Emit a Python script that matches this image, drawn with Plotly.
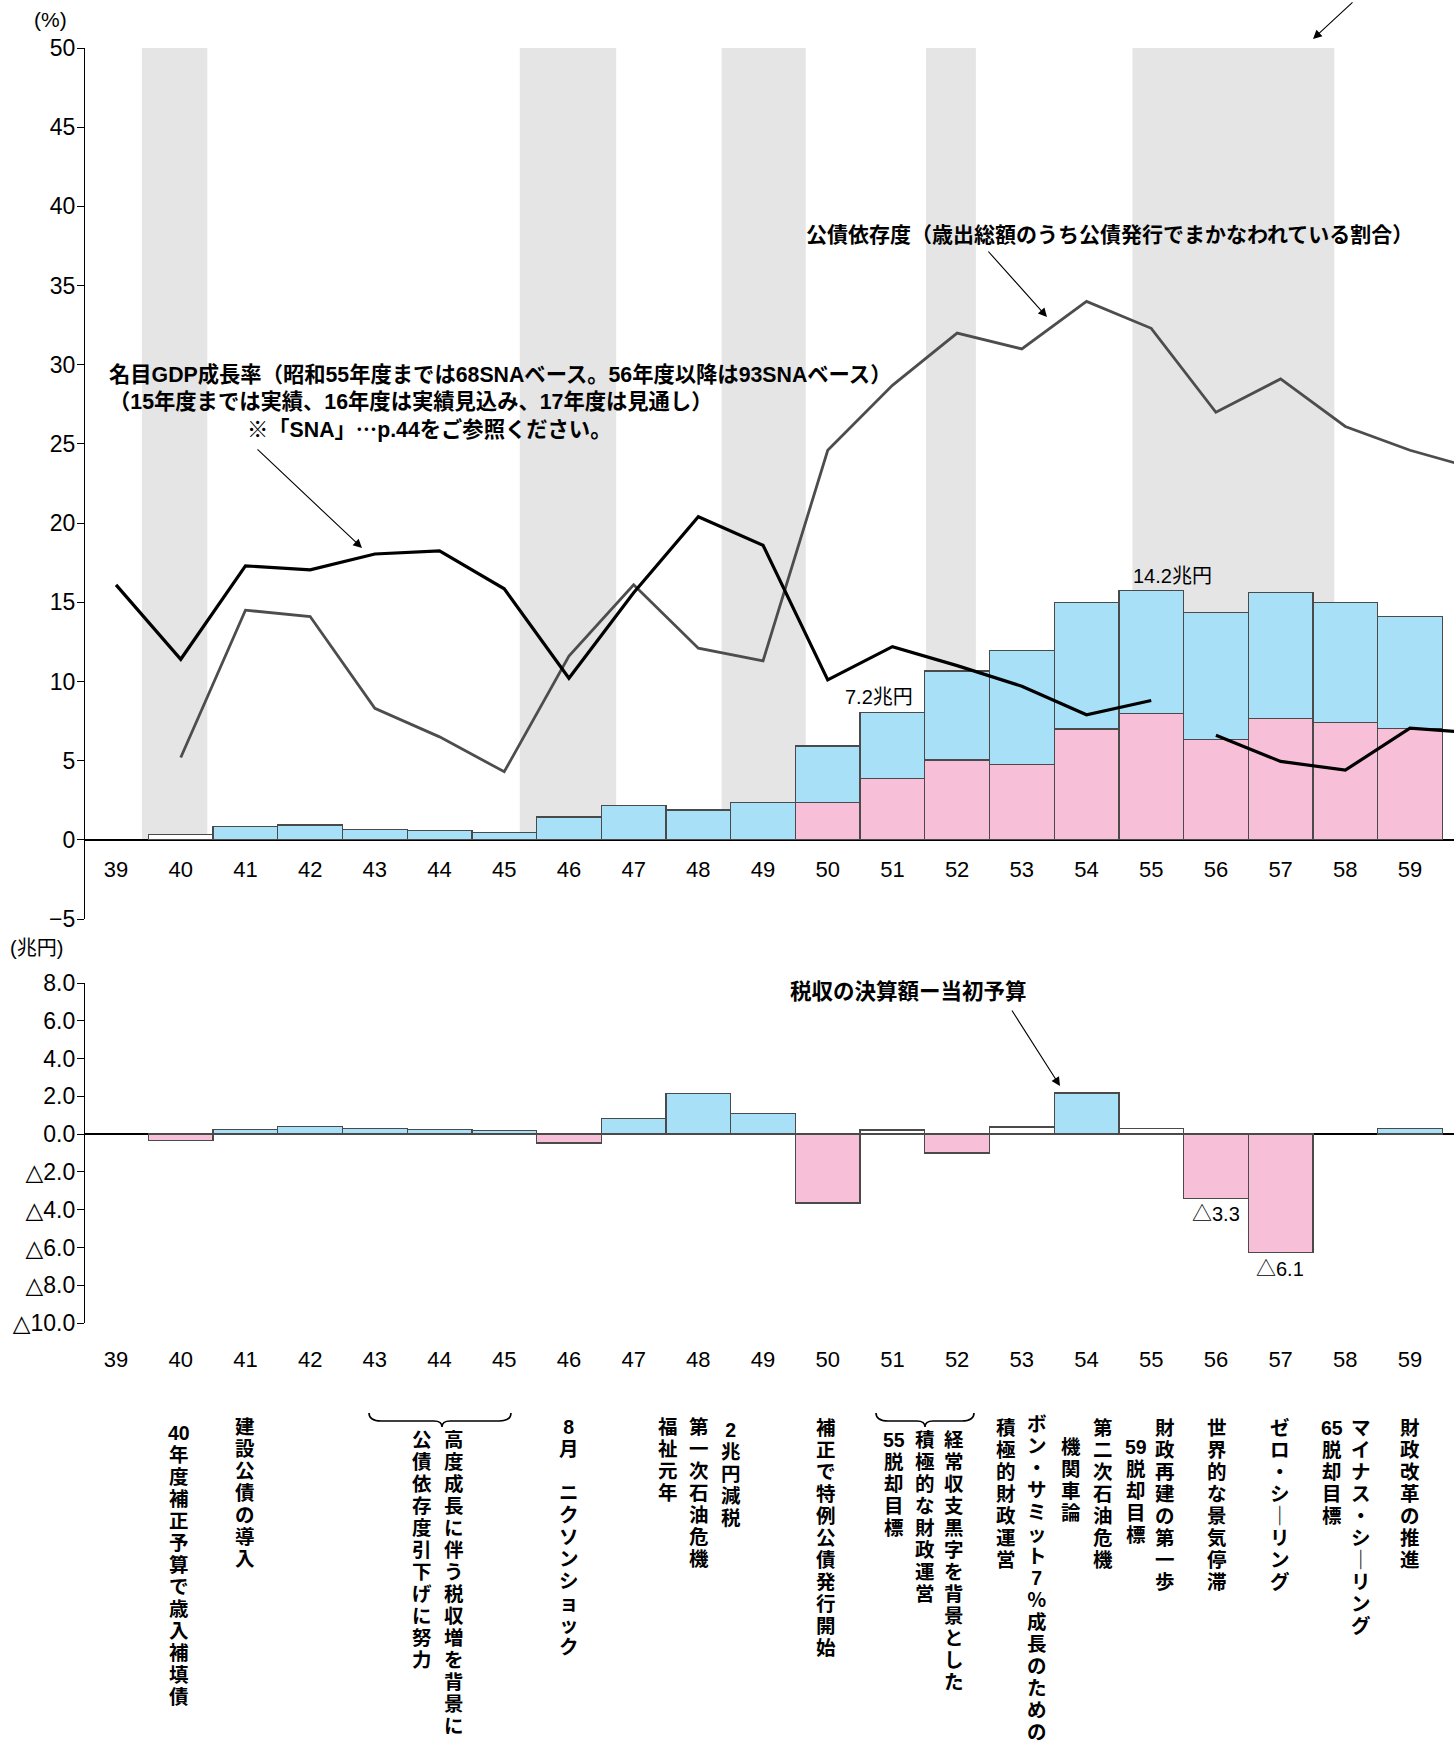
import plotly.graph_objects as go

W, H = 1454, 1754


def PX(x):
    return x / W


def PY(y):
    return 1 - y / H


# ---------------- data ----------------
year_ticks = list(range(39, 60))
year_tick_labels = [str(y) for y in year_ticks]

# 名目GDP成長率 (%)
gdp_68_years = list(range(39, 56))
gdp_68_values = [16.1, 11.4, 17.3, 17.05, 18.05, 18.25, 15.85, 10.2, 15.6, 20.4,
                 18.6, 10.1, 12.2, 11.0, 9.7, 7.9, 8.8]
gdp_93_years = [56, 57, 58, 59, 60]
gdp_93_values = [6.6, 4.95, 4.4, 7.05, 6.75]

# 公債依存度 (%)
dep_years = list(range(40, 61))
dep_values = [5.2, 14.5, 14.1, 8.3, 6.5, 4.3, 11.6, 16.1, 12.1, 11.3, 24.6,
              28.7, 32.0, 31.0, 34.0, 32.3, 27.0, 29.1, 26.1, 24.6, 23.45]

# 公債発行額 (兆円)
bond_years = list(range(40, 60))
construction_bonds = [None, 0.77, 0.84, 0.60, 0.53, 0.40, 1.29, 1.95, 1.69, 2.12,
                      3.22, 3.76, 5.07, 6.44, 7.20, 7.01, 7.18, 7.14, 6.80, 6.39]
special_bonds = [None, None, None, None, None, None, None, None, None, None,
                 2.12, 3.47, 4.53, 4.30, 6.30, 7.16, 5.72, 6.91, 6.67, 6.32]
revenue_gap_bonds = [0.30, None, None, None, None, None, None, None, None, None,
                     None, None, None, None, None, None, None, None, None, None]

# 税収の決算額－当初予算 (兆円)
tax_years = list(range(40, 60))
tax_diff = [-0.35, 0.25, 0.41, 0.30, 0.24, 0.20, -0.47, 0.83, 2.15, 1.10,
            -3.64, 0.21, -1.00, 0.37, 2.17, 0.30, -3.40, -6.25, 0.0, 0.29]
tax_neutral_years = [51, 53, 55]

# 景気後退期 (shaded)
recession_starts = [39.40, 45.24, 48.36, 51.52, 54.71]
recession_ends = [40.41, 46.73, 49.66, 52.29, 57.83]

# ---------------- styling ----------------
PINK = "#f7c0d8"
BLUE = "#a8e0f8"
OUTLINE = "#4a4a4a"
BAND = "#e5e5e5"
JP = "Liberation Sans, Noto Sans CJK JP"
NUM = "Liberation Sans, Arial, DejaVu Sans"
VERT = "Liberation Sans, Noto Sans CJK JP"

X_RANGE = [38.52, 59.68]
PCT_RANGE = [-5, 50]
BAR_SCALE = 0.9
BAR_RANGE = [PCT_RANGE[0] * BAR_SCALE, PCT_RANGE[1] * BAR_SCALE]

fig = go.Figure()

bar_line = dict(color=OUTLINE, width=1.3)

# top bars (on hidden main axis y)
fig.add_bar(x=bond_years, y=special_bonds, width=1.0, xaxis="x", yaxis="y",
            marker=dict(color=PINK, line=bar_line))
fig.add_bar(x=bond_years, y=construction_bonds, width=1.0, xaxis="x", yaxis="y",
            marker=dict(color=BLUE, line=bar_line))
fig.add_bar(x=bond_years, y=revenue_gap_bonds, width=1.0, xaxis="x", yaxis="y",
            marker=dict(color="white", line=bar_line))

# lines (on visible overlay axis y3)
fig.add_scatter(x=dep_years, y=dep_values, mode="lines", xaxis="x", yaxis="y3",
                line=dict(color="#4d4d4d", width=2.8))
fig.add_scatter(x=gdp_68_years, y=gdp_68_values, mode="lines", xaxis="x", yaxis="y3",
                line=dict(color="black", width=3.2))
fig.add_scatter(x=gdp_93_years, y=gdp_93_values, mode="lines", xaxis="x", yaxis="y3",
                line=dict(color="black", width=3.2))

# bottom bars
pos_vals, neg_vals, neu_vals = [], [], []
for yr, v in zip(tax_years, tax_diff):
    if v == 0:
        pos_vals.append(None); neg_vals.append(None); neu_vals.append(None)
    elif yr in tax_neutral_years:
        pos_vals.append(None); neg_vals.append(None); neu_vals.append(v)
    elif v > 0:
        pos_vals.append(v); neg_vals.append(None); neu_vals.append(None)
    else:
        pos_vals.append(None); neg_vals.append(v); neu_vals.append(None)

fig.add_bar(x=tax_years, y=pos_vals, width=1.0, xaxis="x2", yaxis="y2",
            marker=dict(color=BLUE, line=bar_line))
fig.add_bar(x=tax_years, y=neg_vals, width=1.0, xaxis="x2", yaxis="y2",
            marker=dict(color=PINK, line=bar_line))
fig.add_bar(x=tax_years, y=neu_vals, width=1.0, xaxis="x2", yaxis="y2",
            marker=dict(color="white", line=bar_line))

# shaded bands
shapes = []
for s, e in zip(recession_starts, recession_ends):
    shapes.append(dict(type="rect", xref="x", yref="y", x0=s, x1=e, y0=0, y1=BAR_RANGE[1],
                       fillcolor=BAND, line=dict(width=0), layer="below"))


def brace(x0, x1, xm, ytop, ymid, ytip):
    def P(x, y):
        return f"{PX(x):.5f},{PY(y):.5f}"
    path = (f"M {P(x0, ytop)} Q {P(x0, ymid)} {P(x0 + 12, ymid)} "
            f"L {P(xm - 8, ymid)} Q {P(xm, ymid)} {P(xm, ytip)} "
            f"Q {P(xm, ymid)} {P(xm + 8, ymid)} L {P(x1 - 12, ymid)} "
            f"Q {P(x1, ymid)} {P(x1, ytop)}")
    return dict(type="path", xref="paper", yref="paper", path=path,
                line=dict(color="black", width=1.6))


shapes.append(brace(369, 511, 442, 1413, 1421, 1427))
shapes.append(brace(876, 974, 925, 1413, 1421, 1427))

ann = []


def text(x, y, s, size=21, family=JP, weight="normal", xanchor="center"):
    ann.append(dict(x=PX(x), y=PY(y), xref="paper", yref="paper", text=s,
                    showarrow=False, xanchor=xanchor, yanchor="middle",
                    font=dict(family=family, size=size, color="black", weight=weight)))


def arrow(tx, ty, hx, hy):
    ann.append(dict(x=PX(hx), y=PY(hy), xref="paper", yref="paper", text="",
                    showarrow=True, ax=tx - hx, ay=ty - hy, arrowhead=2,
                    arrowsize=1.6, arrowwidth=1.1, arrowcolor="black", standoff=0))


# axis unit labels
text(50, 19, "(%)", size=21, family=NUM)
text(36, 948, "(兆円)", size=20)

# annotation texts
text(107, 375, "名目GDP成長率（昭和55年度までは68SNAベース。56年度以降は93SNAベース）",
     size=21.3, weight="bold", xanchor="left")
text(107, 402, "（15年度までは実績、16年度は実績見込み、17年度は見通し）",
     size=21.3, weight="bold", xanchor="left")
text(245, 429, "※「SNA」⋯p.44をご参照ください。", size=21.3, weight="bold", xanchor="left")
text(804, 234, "公債依存度（歳出総額のうち公債発行でまかなわれている割合）",
     size=21, weight="bold", xanchor="left")
text(879, 697, "7.2兆円", size=20)
text(1172, 576, "14.2兆円", size=20)
text(908, 992, "税収の決算額ー当初予算", size=21.5, weight="bold")
text(1216, 1214, "△3.3", size=20)
text(1280, 1269, "△6.1", size=20)

arrow(256, 448, 362, 548)
arrow(987, 250, 1047, 317)
arrow(1011, 1009, 1060, 1086)
arrow(1354, 1, 1313, 39)

# vertical notes under the chart (column center x, glyph top y, text)
notes = [
    (179.4, 1423, "40年度補正予算で歳入補填債"),
    (244.6, 1417, "建設公債の導入"),
    (454.0, 1430, "高度成長に伴う税収増を背景に"),
    (422.5, 1430, "公債依存度引下げに努力"),
    (568.7, 1417, "8月　ニクソンショック"),
    (730.8, 1420, "2兆円減税"),
    (699.2, 1417, "第一次石油危機"),
    (667.5, 1417, "福祉元年"),
    (826.3, 1418, "補正で特例公債発行開始"),
    (954.3, 1430, "経常収支黒字を背景とした"),
    (925.1, 1430, "積極的な財政運営"),
    (893.7, 1430, "55脱却目標"),
    (1037.4, 1414, "ボン・サミット7％成長のための"),
    (1006.0, 1418, "積極的財政運営"),
    (1102.5, 1418, "第二次石油危機"),
    (1071.0, 1437, "機関車論"),
    (1165.4, 1418, "財政再建の第一歩"),
    (1136.2, 1437, "59脱却目標"),
    (1217.0, 1418, "世界的な景気停滞"),
    (1279.9, 1418, "ゼロ・シーリング"),
    (1360.7, 1418, "マイナス・シーリング"),
    (1331.5, 1418, "65脱却目標"),
    (1410.1, 1418, "財政改革の推進"),
]


def tokens(s):
    out = []
    i = 0
    while i < len(s):
        if s[i].isdigit():
            j = i
            while j < len(s) and s[j].isdigit():
                j += 1
            out.append(s[i:j])
            i = j
        else:
            out.append("｜" if s[i] == "ー" else s[i])
            i += 1
    return out


GLYPH = 19.5
PITCH = 22.0
for cx, top, s in notes:
    toks = tokens(s)
    base = PITCH / 1.3
    body = "<br>".join(f"<span style='font-size:{GLYPH}px'>{t}</span>" for t in toks)
    ann.append(dict(x=PX(cx), y=PY(top - 2), xref="paper", yref="paper", text=body,
                    showarrow=False, xanchor="center", yanchor="top", align="center",
                    borderpad=0,
                    font=dict(family=VERT, size=base, color="black", weight="bold")))

tick_font = dict(family=NUM, size=22, color="black")

fig.update_layout(
    width=W, height=H,
    margin=dict(l=0, r=0, t=0, b=0, pad=0),
    paper_bgcolor="white", plot_bgcolor="white",
    showlegend=False, barmode="stack",
    shapes=shapes, annotations=ann,
    xaxis=dict(domain=[PX(85), 1], range=X_RANGE, anchor="free", position=PY(854),
               tickvals=year_ticks, ticktext=year_tick_labels, ticks="",
               showline=False, showgrid=False, zeroline=False, tickfont=tick_font,
               automargin=False),
    yaxis=dict(domain=[PY(919), PY(48)], range=BAR_RANGE, visible=False,
               anchor="x", showgrid=False, zeroline=False, automargin=False),
    yaxis3=dict(overlaying="y", anchor="x", side="left", range=PCT_RANGE,
                tickvals=list(range(-5, 51, 5)),
                ticktext=["−5"] + [str(v) for v in range(0, 51, 5)],
                ticks="outside", ticklen=7, tickwidth=1.3, tickcolor="black",
                showline=True, linecolor="black", linewidth=1.3,
                showgrid=False, zeroline=True, zerolinecolor="black", zerolinewidth=1.6,
                tickfont=dict(family=NUM, size=23, color="black"),
                ticklabelstandoff=-3, automargin=False),
    xaxis2=dict(domain=[PX(85), 1], range=X_RANGE, anchor="free", position=PY(1344),
                tickvals=year_ticks, ticktext=year_tick_labels, ticks="",
                showline=False, showgrid=False, zeroline=False, tickfont=tick_font,
                automargin=False),
    yaxis2=dict(domain=[PY(1323), PY(983)], range=[-10, 8], anchor="x2",
                tickvals=list(range(-10, 9, 2)),
                ticktext=["△10.0", "△8.0", "△6.0", "△4.0", "△2.0", "0.0",
                          "2.0", "4.0", "6.0", "8.0"],
                ticks="outside", ticklen=7, tickwidth=1.3, tickcolor="black",
                showline=True, linecolor="black", linewidth=1.3,
                showgrid=False, zeroline=True, zerolinecolor="black", zerolinewidth=1.6,
                tickfont=dict(family=NUM, size=23, color="black"),
                ticklabelstandoff=-3, automargin=False),
)

fig.write_html("out.html", config={"displayModeBar": False},
               post_script="document.body.style.margin='0';")
